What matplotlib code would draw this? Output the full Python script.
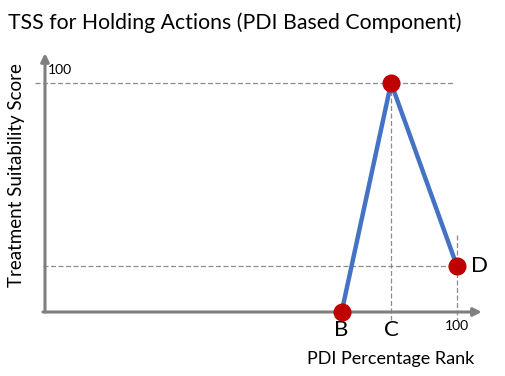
import matplotlib
matplotlib.use('Agg')
import matplotlib.pyplot as plt

# data (PDI percentage rank vs treatment suitability score)
point_labels = ["B", "C", "D"]
pdi_rank = [72, 84, 100]
tss_score = [0, 100, 20]

plt.rcParams['font.family'] = ['Lato', 'DejaVu Sans']

fig = plt.figure(figsize=(5.05, 3.76), dpi=100)
ax = fig.add_axes([0, 0, 1, 1])
# pixel mapping: x 0->45px, 100->457px ; y 0->312px, 100->83px
xs = 412 / 100
ys = 229 / 100
ax.set_xlim(-45 / xs, (505 - 45) / xs)
ax.set_ylim(-(376 - 312) / ys, 312 / ys)
ax.axis('off')

axis_col = '#7f7f7f'
dash_col = '#8c8c8c'

# axes with arrows
ax.annotate('', xy=(0, 113), xytext=(0, 0),
            arrowprops=dict(arrowstyle='-|>', color=axis_col, lw=2.2, mutation_scale=12, shrinkA=0, shrinkB=0))
ax.annotate('', xy=(106, 0), xytext=(-0.5, 0),
            arrowprops=dict(arrowstyle='-|>', color=axis_col, lw=2.2, mutation_scale=12, shrinkA=0, shrinkB=0))

# guide lines
ax.plot([-2.5, 99.5], [100, 100], ls=(0, (4, 2)), color=dash_col, lw=0.9)
ax.plot([-0.5, 99.5], [tss_score[2], tss_score[2]], ls=(0, (4, 2)), color=dash_col, lw=0.9)
ax.plot([pdi_rank[1], pdi_rank[1]], [100, -3.5], ls=(0, (4, 2)), color=dash_col, lw=0.9)
ax.plot([pdi_rank[2], pdi_rank[2]], [33.5, -3.5], ls=(0, (4, 2)), color=dash_col, lw=0.9)

ax.plot(pdi_rank, tss_score, color='#4472C4', lw=3.2, solid_capstyle='round', zorder=3)
ax.plot(pdi_rank, tss_score, 'o', color='#C00000', ms=12, zorder=4)

# point labels
ax.text(pdi_rank[0], -3.5, point_labels[0], fontsize=16, ha='center', va='top')
ax.text(pdi_rank[1], -3.5, point_labels[1], fontsize=16, ha='center', va='top')
ax.text(103.5, tss_score[2], point_labels[2], fontsize=16, ha='left', va='center')

ax.text(0.8, 103, '100', fontsize=10, ha='left', va='bottom')
ax.text(100, -3.5, '100', fontsize=10, ha='center', va='top')

ax.text(84, -20.5, 'PDI Percentage Rank', fontsize=13, ha='center', va='center')
ax.text(-6.8, 60, 'Treatment Suitability Score', fontsize=13.5, ha='center', va='center', rotation=90)

ax.text(-9, 126.5, 'TSS for Holding Actions (PDI Based Component)', fontsize=15.3, ha='left', va='center')

fig.savefig('out.png', dpi=100)
